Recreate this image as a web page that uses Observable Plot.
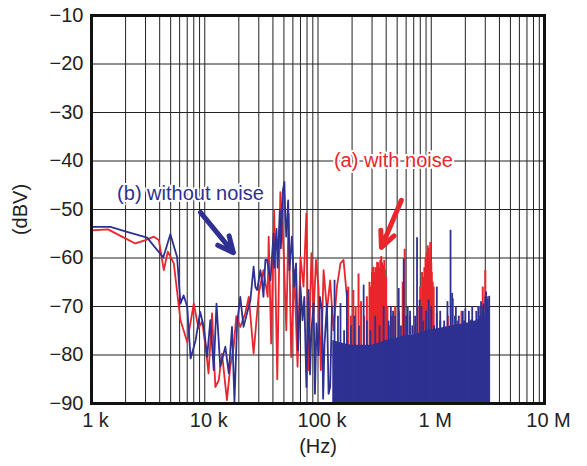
<!DOCTYPE html>
<html>
<head>
<meta charset="utf-8">
<script src="https://cdn.jsdelivr.net/npm/d3@7"></script>
<script src="https://cdn.jsdelivr.net/npm/@observablehq/plot@0.6"></script>
<style>
  html, body { margin: 0; padding: 0; background: #fff; }
  #chart svg { font-family: "Liberation Sans", Arial, sans-serif; }
</style>
</head>
<body>
<div id="chart"></div>
<script>
// Frequencies in kHz, levels in dBV
const xTickValues = [1, 10, 100, 1000, 10000];
const xTickLabels = ["1 k", "10 k", "100 k", "1 M", "10 M"];
const yTickValues = [-10, -20, -30, -40, -50, -60, -70, -80, -90];

// (a) with noise — traced line (1 k to ~180 k)
const redF = [1.0, 1.4, 1.93, 2.44, 3.0, 3.55, 3.93, 4.35, 4.72, 5.33, 6.1, 7.0, 8.0, 8.8, 9.5, 10.5, 10.8, 11.6, 12.4, 13.3, 14.2, 15.7, 16.8, 18, 19, 20.6, 22.8, 24.5, 27, 30, 33, 36, 36.7, 38.6, 41, 43.7, 46.5, 49.8, 52.5, 55, 58, 61.7, 66, 70, 74.5, 79, 82.5, 87.5, 91.5, 96, 101, 106, 112, 120, 128, 137, 147, 158, 168, 180];
const redDb = [-54.3, -54.1, -55.8, -57, -56.3, -55.6, -56.3, -62.5, -58.7, -61.1, -72.8, -77.3, -69.4, -74.5, -73, -81.1, -83.8, -71.4, -86.6, -85.2, -79.7, -89.3, -82.4, -78.3, -72, -74.2, -71.4, -68, -79.7, -67.3, -62.5, -68, -55.6, -77.6, -50.1, -85, -46.4, -59, -74.9, -50.8, -80.4, -62.5, -82.4, -59.8, -65.9, -50.8, -83.1, -59, -71.4, -60.4, -65.9, -83.1, -62.5, -70.8, -64.6, -74.9, -65.9, -61.1, -60.4, -68];

// (b) without noise — traced line (1 k to ~135 k)
const blueF = [1.0, 1.47, 2.06, 3.1, 4.3, 4.97, 5.7, 6.1, 6.5, 7.0, 7.5, 8.3, 9.1, 9.8, 10.5, 11.2, 12.0, 12.7, 13.7, 15.2, 16.3, 17.4, 18.3, 19.3, 20.6, 22, 23.6, 25.3, 27, 28, 29, 31, 32, 33, 34.3, 35.5, 38, 40.5, 41, 43, 44, 46, 47, 49, 50.5, 51.5, 52.5, 54.5, 56, 58.8, 61.7, 64, 66.6, 70, 73, 75.7, 79, 82.5, 85, 87.5, 91.5, 94, 97, 101, 104, 108.5, 111, 114, 120, 124, 128, 133];
const blueDb = [-53.6, -53.6, -54.6, -55.8, -59.9, -55.1, -59.8, -69.4, -67.7, -70, -80.7, -77, -71.1, -74.2, -80.4, -72.8, -83.1, -69.4, -82.4, -78.3, -83.8, -74.2, -89.6, -73.5, -68, -74.2, -71.4, -68.7, -61.8, -66, -66.6, -62.5, -64.6, -68, -60.4, -60.4, -64.6, -55, -62, -54, -62, -50, -58, -46, -44.3, -52, -55.6, -48.1, -62.5, -55.6, -65.9, -61.1, -79, -65.9, -72.8, -68, -86.6, -66.6, -84, -74.9, -69.4, -88, -73.5, -80, -68, -70.8, -89, -78, -69.4, -88, -86.6, -70];

// Dense region: spike peaks
const redSpikeF = [185, 195, 205, 215, 228, 240, 255, 270, 285, 290, 300, 305, 310, 315, 320, 325, 333, 340, 345, 350, 355, 362, 368, 375, 380, 385, 390, 395, 400, 410, 430, 450, 480, 520, 560, 583, 610, 650, 700, 760, 800, 830, 855, 870, 890, 910, 930, 950, 965, 980, 1000, 1010, 1030, 1050, 1120, 1200, 1300, 1400, 1550, 1700, 1850, 2000, 2200, 2450, 2700, 2850, 3000, 3150];
const redSpikeDb = [-66, -72, -66.7, -70, -63.3, -69, -72, -68, -65, -66, -63, -62, -61.9, -63, -64, -62, -60.9, -61, -63, -62, -60.5, -59.7, -61, -62, -61.5, -60.5, -62.5, -66, -64, -70, -74, -72, -70, -71, -65, -58.2, -73, -72, -74, -70, -66, -63, -64, -62, -60, -59, -57.5, -58, -60, -56.8, -61, -63, -65, -66, -71.4, -73, -74, -72, -68.4, -73, -71, -74, -73, -74, -70, -66, -62.6, -68];

const blueSpikeF = [140, 150, 158, 170, 180, 195, 210, 230, 253, 270, 290, 320, 350, 380, 420, 440, 460, 480, 516, 540, 571, 600, 620, 650, 680, 720, 749, 790, 820, 850, 900, 948, 1000, 1060, 1120, 1200, 1300, 1390, 1480, 1530, 1620, 1650, 1700, 1750, 1800, 1900, 1950, 2000, 2100, 2150, 2250, 2300, 2400, 2500, 2550, 2600, 2700, 2750, 2850, 2900, 3000, 3050, 3150, 3200, 3250];
const blueSpikeDb = [-64.6, -72, -69.4, -75, -66.7, -74, -72, -74, -65.6, -73, -75, -72, -74, -70, -73, -70, -71, -72, -66.3, -74, -60.2, -72, -70, -71, -74, -72, -55.8, -68.7, -70, -73, -71, -68.7, -70, -74, -66, -71, -73, -69, -54.3, -67.3, -72, -70, -73.8, -72, -74, -71, -73, -70.5, -74.2, -71, -72.8, -70, -73, -71, -72.8, -70, -72, -69, -70, -69.5, -68, -67, -68.6, -70, -67.9];

// Dense region: solid blue floor (upper edge)
const blueFloorF = [135, 160, 200, 250, 300, 400, 500, 600, 700, 900, 1200, 1500, 2000, 2500, 3000, 3280];
const blueFloorDb = [-77, -77.5, -78, -78, -78, -77, -76.5, -76, -76, -75, -74.5, -74, -73.5, -73, -72, -72];

// Annotations
const annTexts = ["(b) without noise", "(a) with noise"];
const annF = [7.48, 463];
const annDb = [-46.7, -39.9];
const arrowF1 = [9.17, 545];
const arrowDb1 = [-50.6, -48.1];
const arrowF2 = [17.9, 363];
const arrowDb2 = [-58.9, -57.8];

const RED = "#e8262b";
const BLUE = "#2e3192";

const zip = (f, v) => f.map((x, i) => ({f: x, db: v[i]}));
const red = zip(redF, redDb);
const blue = zip(blueF, blueDb);
const redSpikes = zip(redSpikeF, redSpikeDb);
const blueSpikes = zip(blueSpikeF, blueSpikeDb);
const blueFloor = zip(blueFloorF, blueFloorDb);
const annColors = [BLUE, RED];
const ann = annTexts.map((t, i) => ({t, f: annF[i], db: annDb[i], c: annColors[i]}));
const arrows = arrowF1.map((f, i) => ({f1: f, d1: arrowDb1[i], f2: arrowF2[i], d2: arrowDb2[i], c: annColors[i]}));

const gridXTicks = [];
for (let k = 0; k < 4; k++) for (let m = 1; m <= 9; m++) gridXTicks.push(m * Math.pow(10, k));
gridXTicks.push(10000);

const fmtX = d => xTickLabels[xTickValues.indexOf(d)];
const fmtY = d => "\u2212" + Math.abs(d);

const chart = Plot.plot({
  width: 587,
  height: 466,
  marginLeft: 91,
  marginRight: 43,
  marginTop: 15,
  marginBottom: 63,
  x: {type: "log", domain: [1, 10000]},
  y: {domain: [-90, -10]},
  marks: [
    Plot.gridX(gridXTicks, {stroke: "#222", strokeOpacity: 1, strokeWidth: 1}),
    Plot.gridY(yTickValues, {stroke: "#222", strokeOpacity: 1, strokeWidth: 1}),
    Plot.line(red, {x: "f", y: "db", stroke: RED, strokeWidth: 1.8, clip: true}),
    Plot.ruleX(redSpikes, {x: "f", y1: -90, y2: "db", stroke: RED, strokeWidth: 2, clip: true}),
    Plot.line(blue, {x: "f", y: "db", stroke: BLUE, strokeWidth: 1.8, clip: true}),
    Plot.areaY(blueFloor, {x: "f", y1: -90, y2: "db", fill: BLUE, clip: true}),
    Plot.ruleX(blueSpikes, {x: "f", y1: -90, y2: "db", stroke: BLUE, strokeWidth: 1.8, clip: true}),
    Plot.text(ann, {x: "f", y: "db", text: "t", fill: "c", stroke: "white", strokeWidth: 4, fontSize: 20}),
    Plot.arrow(arrows, {x1: "f1", y1: "d1", x2: "f2", y2: "d2", stroke: "c", strokeWidth: 5, headLength: 14, headAngle: 50}),
    Plot.axisX(xTickValues, {tickFormat: fmtX, tickSize: 0, tickPadding: 9, fontSize: 20, dx: 4, label: "(Hz)", labelAnchor: "center", labelArrow: "none", labelOffset: 49}),
    Plot.axisY(yTickValues, {tickFormat: fmtY, tickSize: 0, tickPadding: 8, fontSize: 20, label: "(dBV)", labelAnchor: "center", labelArrow: "none", labelOffset: 79}),
    Plot.frame({stroke: "#111", strokeWidth: 3})
  ]
});
chart.style.color = "#222";
document.getElementById("chart").appendChild(chart);
</script>
</body>
</html>
